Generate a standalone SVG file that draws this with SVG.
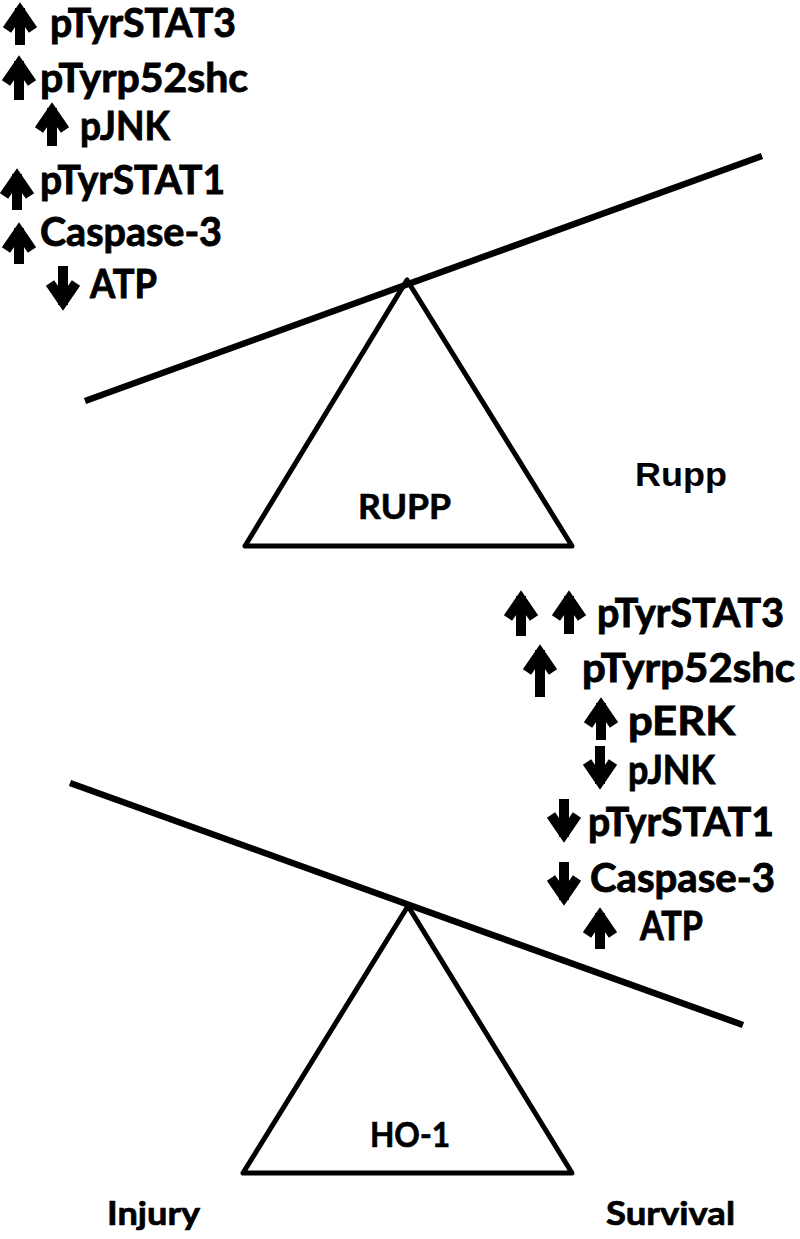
<svg xmlns="http://www.w3.org/2000/svg" width="800" height="1239" viewBox="0 0 800 1239">
<style>
.t{font-family:Lato,"Liberation Sans",sans-serif;font-weight:bold;font-size:40px;fill:#000;stroke:#000;stroke-width:0.9}
.lab{font-family:Lato,"Liberation Sans",sans-serif;font-weight:bold;font-size:35px;fill:#000;stroke:#000;stroke-width:0.7}
.arr{fill:none;stroke:#000;stroke-width:10;stroke-linejoin:miter;stroke-miterlimit:10}
.beam{stroke:#000;stroke-width:6.5;stroke-linecap:butt}
.tri{fill:#fff;stroke:#000;stroke-width:5;stroke-linejoin:round}
</style>
<rect width="800" height="1239" fill="#fff"/>
<g id="rupp-balance">
  <polygon class="tri" points="407,280 245,546 572,546"/>
  <line class="beam" x1="85" y1="401" x2="762" y2="156"/>
  <text class="lab" x="358" y="519" textLength="93" lengthAdjust="spacingAndGlyphs">RUPP</text>
</g>
<g id="rupp-label">
  <text x="635" y="486" style="font-family:'Liberation Sans',Arial,sans-serif;font-weight:bold;font-size:33px" textLength="92" lengthAdjust="spacingAndGlyphs">Rupp</text>
</g>
<g id="ho1-balance">
  <polygon class="tri" points="408,906 243,1173 572,1173"/>
  <line class="beam" x1="70" y1="783" x2="743" y2="1025"/>
  <text class="lab" x="370" y="1147" textLength="80" lengthAdjust="spacingAndGlyphs">HO-1</text>
</g>
<g id="injury-label">
  <text class="lab" x="107" y="1225" style="font-size:32px" textLength="93" lengthAdjust="spacingAndGlyphs">Injury</text>
</g>
<g id="survival-label">
  <text class="lab" x="606" y="1225" style="font-size:32px" textLength="129" lengthAdjust="spacingAndGlyphs">Survival</text>
</g>
<g id="rupp-markers">
  <path class="arr" d="M20,8V45M7,30L20,11L33,30"/>
  <text class="t" x="50" y="37" textLength="186" lengthAdjust="spacingAndGlyphs">pTyrSTAT3</text>
  <path class="arr" d="M19,61V100M6,83L19,64L32,83"/>
  <text class="t" x="40" y="92" textLength="208" lengthAdjust="spacingAndGlyphs">pTyrp52shc</text>
  <path class="arr" d="M52,108V146M39,130L52,111L65,130"/>
  <text class="t" x="80" y="140" textLength="90" lengthAdjust="spacingAndGlyphs">pJNK</text>
  <path class="arr" d="M17,174V210M4,196L17,177L30,196"/>
  <text class="t" x="40" y="194" textLength="185" lengthAdjust="spacingAndGlyphs">pTyrSTAT1</text>
  <path class="arr" d="M19,228V264M6,250L19,231L32,250"/>
  <text class="t" x="40" y="246" textLength="182" lengthAdjust="spacingAndGlyphs">Caspase-3</text>
  <path class="arr" d="M63,266V305M50,283L63,302L76,283"/>
  <text class="t" x="90" y="298" textLength="67" lengthAdjust="spacingAndGlyphs">ATP</text>
</g>
<g id="ho1-markers">
  <path class="arr" d="M521,596V636M508,618L521,599L534,618"/>
  <path class="arr" d="M569,596V634M556,618L569,599L582,618"/>
  <text class="t" x="597" y="627" textLength="187" lengthAdjust="spacingAndGlyphs">pTyrSTAT3</text>
  <path class="arr" d="M540,650V697M527,672L540,653L553,672"/>
  <text class="t" x="582" y="682" textLength="213" lengthAdjust="spacingAndGlyphs">pTyrp52shc</text>
  <path class="arr" d="M601,703V740M588,725L601,706L614,725"/>
  <text class="t" x="628" y="735" textLength="107" lengthAdjust="spacingAndGlyphs">pERK</text>
  <path class="arr" d="M600,746V784M587,762L600,781L613,762"/>
  <text class="t" x="628" y="784" textLength="87" lengthAdjust="spacingAndGlyphs">pJNK</text>
  <path class="arr" d="M564,799V837M551,815L564,834L577,815"/>
  <text class="t" x="588" y="836" textLength="186" lengthAdjust="spacingAndGlyphs">pTyrSTAT1</text>
  <path class="arr" d="M564,862V900M551,878L564,897L577,878"/>
  <text class="t" x="590" y="892" textLength="185" lengthAdjust="spacingAndGlyphs">Caspase-3</text>
  <path class="arr" d="M600,913V949M587,935L600,916L613,935"/>
  <text class="t" x="640" y="940" textLength="63" lengthAdjust="spacingAndGlyphs">ATP</text>
</g>
</svg>
